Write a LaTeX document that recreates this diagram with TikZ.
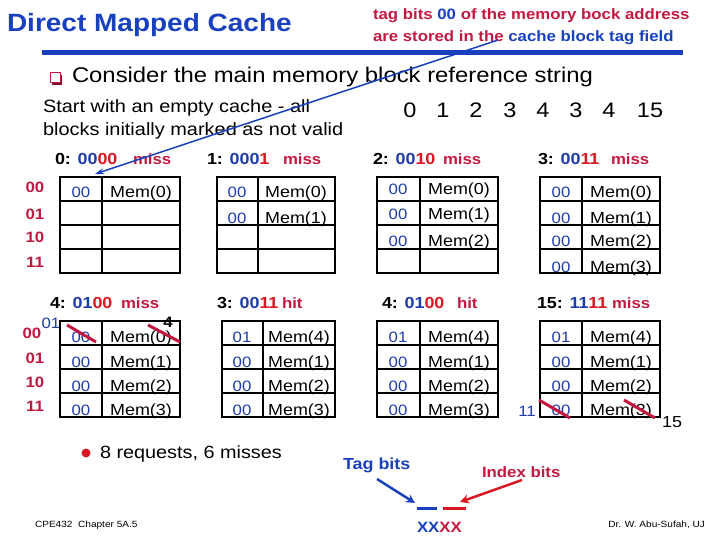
\documentclass[tikz,border=0pt]{standalone}
\usepackage{fontspec}
\setmainfont{Liberation Sans}[FakeStretch=1.12]
\usetikzlibrary{arrows.meta}
\definecolor{ttblue}{RGB}{25,65,190}
\definecolor{tagblue}{RGB}{30,60,170}
\definecolor{bitred}{RGB}{215,25,35}
\definecolor{crim}{RGB}{195,25,65}
\newcommand\fs[1]{\fontsize{#1}{#1}\selectfont}
\newcommand\cgrid[4]{%
  \draw[gridline] (#1,#4) rectangle (#3,#4+96);
  \draw[gridline] (#2,#4) -- (#2,#4+96);
  \foreach \k in {1,2,3} \draw[gridline] (#1,#4+24*\k) -- (#3,#4+24*\k);}
\newcommand\cellrow[6]{%
  \node[tagtxt] (#1t) at (#2,#4) {#5};
  \node[memtxt] (#1m) at (#3,#4) {#6};}
\begin{document}
\begin{tikzpicture}[x=1pt,y=-1pt,
  every node/.style={inner sep=0pt,outer sep=0pt},
  gridline/.style={line width=2pt,black,line cap=rect},
  tagtxt/.style={font=\fs{15},text=tagblue,anchor=base},
  memtxt/.style={font=\fs{16},text=black,anchor=base},
  rowlbl/.style={font=\fs{15}\bfseries,text=crim,anchor=base},
  hdr/.style={font=\fs{16}\bfseries,anchor=base west},
  hdrres/.style={font=\fs{15}\bfseries,text=crim,anchor=base west},
  refnum/.style={font=\fs{21},anchor=base},
  strike/.style={line width=3pt,crim}]
\useasboundingbox (0,0) rectangle (720,540);
\fill[white] (0,0) rectangle (720,540);

% title and header
\node[anchor=base west,font=\fs{25}\bfseries,text=ttblue] (title) at (7,32) {Direct Mapped Cache};
\node[anchor=base west,font=\fs{15}\bfseries,text=crim] (note1) at (373,20) {tag bits {\color{ttblue}00} of the memory bock address};
\node[anchor=base west,font=\fs{15}\bfseries,text=crim] (note2) at (373,42) {are stored in the {\color{ttblue}cache block tag field}};
\coordinate (rulel) at (42,53); \coordinate (ruler) at (683,53);
\draw[ttblue,line width=5pt] (rulel) -- (ruler);

% bullet line
\fill[crim!65!black] (52,75) rectangle (62,85);
\draw[crim,fill=white,line width=1pt] (50,73) rectangle (60,83);
\node[anchor=base west,font=\fs{21.3}] (consider) at (72,83) {Consider the main memory block reference string};
\node[anchor=base west,font=\fs{17.8}] (start1) at (43,113) {Start with an empty cache - all};
\node[anchor=base west,font=\fs{17.8}] (start2) at (43,136) {blocks initially marked as not valid};

% reference string
\foreach \x/\v [count=\i] in {410/0,443/1,476/2,510/3,543/4,576/3,609/4,650/15}
  \node[refnum] (ref\i) at (\x,118) {\v};

% headers top
\node[hdr] (h1) at (55,165) {0: {\color{tagblue}00}{\color{bitred}00}};
\node[hdrres] (h1r) at (133,165) {miss};
\node[hdr] (h2) at (207,165) {1: {\color{tagblue}000}{\color{bitred}1}};
\node[hdrres] (h2r) at (283,165) {miss};
\node[hdr] (h3) at (373,165) {2: {\color{tagblue}00}{\color{bitred}10}};
\node[hdrres] (h3r) at (443,165) {miss};
\node[hdr] (h4) at (538,165) {3: {\color{tagblue}00}{\color{bitred}11}};
\node[hdrres] (h4r) at (611,165) {miss};

% headers bottom
\node[hdr] (h5) at (50,308) {4: {\color{tagblue}01}{\color{bitred}00}};
\node[hdrres] (h5r) at (121,308) {miss};
\node[hdr] (h6) at (217,308) {3: {\color{tagblue}00}{\color{bitred}11}};
\node[hdrres] (h6r) at (282,308) {hit};
\node[hdr] (h7) at (382,308) {4: {\color{tagblue}01}{\color{bitred}00}};
\node[hdrres] (h7r) at (457,308) {hit};
\node[hdr] (h8) at (537,308) {15: {\color{tagblue}11}{\color{bitred}11}};
\node[hdrres] (h8r) at (612,308) {miss};

% row labels top
\foreach \y/\l [count=\i] in {193/00,220/01,243/10,267/11}
  \node[rowlbl] (rl\i) at (35,\y) {\l};
% row labels bottom
\node[rowlbl] (rb1) at (32,338) {00};
\foreach \y/\l [count=\i from 2] in {363/01,387/10,411/11}
  \node[rowlbl] (rb\i) at (35,\y) {\l};
\node[tagtxt] (sup01) at (51,328) {01};

% grids top
\cgrid{60}{102}{180}{177}
\cgrid{217}{258}{335}{177}
\cgrid{377}{420}{498}{177}
\cgrid{540}{582}{660}{177}
% grids bottom
\cgrid{60}{102}{180}{321}
\cgrid{222}{263}{335}{321}
\cgrid{377}{420}{498}{321}
\cgrid{540}{582}{660}{321}

% contents top
\cellrow{a0}{81}{141}{197}{00}{Mem(0)}
\cellrow{b0}{237}{296}{197}{00}{Mem(0)}
\cellrow{b1}{237}{296}{224}{00}{Mem(1)}
\cellrow{c0}{398}{459}{195}{00}{Mem(0)}
\cellrow{c1}{398}{459}{219}{00}{Mem(1)}
\cellrow{c2}{398}{459}{246}{00}{Mem(2)}
\cellrow{d0}{561}{621}{197}{00}{Mem(0)}
\cellrow{d1}{561}{621}{223}{00}{Mem(1)}
\cellrow{d2}{561}{621}{247}{00}{Mem(2)}
\cellrow{d3}{561}{621}{272}{00}{Mem(3)}

% contents bottom
\cellrow{e0}{81}{141}{342}{00}{Mem(0)}
\cellrow{e1}{81}{141}{367}{00}{Mem(1)}
\cellrow{e2}{81}{141}{391}{00}{Mem(2)}
\cellrow{e3}{81}{141}{415}{00}{Mem(3)}
\cellrow{f0}{242}{299}{342}{01}{Mem(4)}
\cellrow{f1}{242}{299}{367}{00}{Mem(1)}
\cellrow{f2}{242}{299}{391}{00}{Mem(2)}
\cellrow{f3}{242}{299}{415}{00}{Mem(3)}
\cellrow{g0}{398}{459}{342}{01}{Mem(4)}
\cellrow{g1}{398}{459}{367}{00}{Mem(1)}
\cellrow{g2}{398}{459}{391}{00}{Mem(2)}
\cellrow{g3}{398}{459}{415}{00}{Mem(3)}
\cellrow{h0}{561}{621}{342}{01}{Mem(4)}
\cellrow{h1}{561}{621}{367}{00}{Mem(1)}
\cellrow{h2}{561}{621}{391}{00}{Mem(2)}
\cellrow{h3}{561}{621}{415}{00}{Mem(3)}

% replacements
\node[font=\fs{15}\bfseries,anchor=base] (four) at (168,327) {4};
\coordinate (s1a) at (67,325); \coordinate (s1b) at (96,342);
\coordinate (s2a) at (148,325); \coordinate (s2b) at (180,342);
\draw[strike] (s1a) -- (s1b);
\draw[strike] (s2a) -- (s2b);
\coordinate (s3a) at (539,400); \coordinate (s3b) at (570,418);
\coordinate (s4a) at (624,400); \coordinate (s4b) at (655,418);
\draw[strike] (s3a) -- (s3b);
\draw[strike] (s4a) -- (s4b);
\node[tagtxt] (new11) at (527,416) {11};
\node[font=\fs{16},anchor=base] (new15) at (672,427) {15};

% diagonal arrow
\coordinate (arrS) at (498,40); \coordinate (arrE) at (95,174);
\draw[ttblue,line width=1.5pt,-{Stealth[length=9pt,width=6pt]}] (arrS) -- (arrE);

% summary
\fill[bitred] (86,453) circle (4.5);
\node[anchor=base west,font=\fs{17.7}] (summary) at (100,458) {8 requests, 6 misses};

% tag / index bits
\node[anchor=base west,font=\fs{16}\bfseries,text=ttblue] (tagbits) at (343,469) {Tag bits};
\node[anchor=base west,font=\fs{15}\bfseries,text=crim] (idxbits) at (482,477) {Index bits};
\node[anchor=base west,font=\fs{15}\bfseries] (xxxx) at (417,532) {{\color{ttblue}XX}{\color{crim}XX}};
\coordinate (tb1) at (377,479); \coordinate (tb2) at (415,503);
\coordinate (ib1) at (522,480); \coordinate (ib2) at (460,502);
\draw[ttblue,line width=2.5pt,-{Stealth[length=9pt,width=9pt]}] (tb1) -- (tb2);
\draw[bitred,line width=2.5pt,-{Stealth[length=9pt,width=9pt]}] (ib1) -- (ib2);
\coordinate (bd1) at (417,508); \coordinate (bd2) at (437,508);
\coordinate (rd1) at (443,508); \coordinate (rd2) at (466,508);
\draw[ttblue,line width=3pt] (bd1) -- (bd2);
\draw[bitred,line width=3pt] (rd1) -- (rd2);

% footers
\node[anchor=base west,font=\fs{9}] (foot1) at (35,527) {CPE432\ \ Chapter 5A.5};
\node[anchor=base east,font=\fs{9}] (foot2) at (705,527) {Dr. W. Abu-Sufah, UJ};
\end{tikzpicture}
\end{document}
